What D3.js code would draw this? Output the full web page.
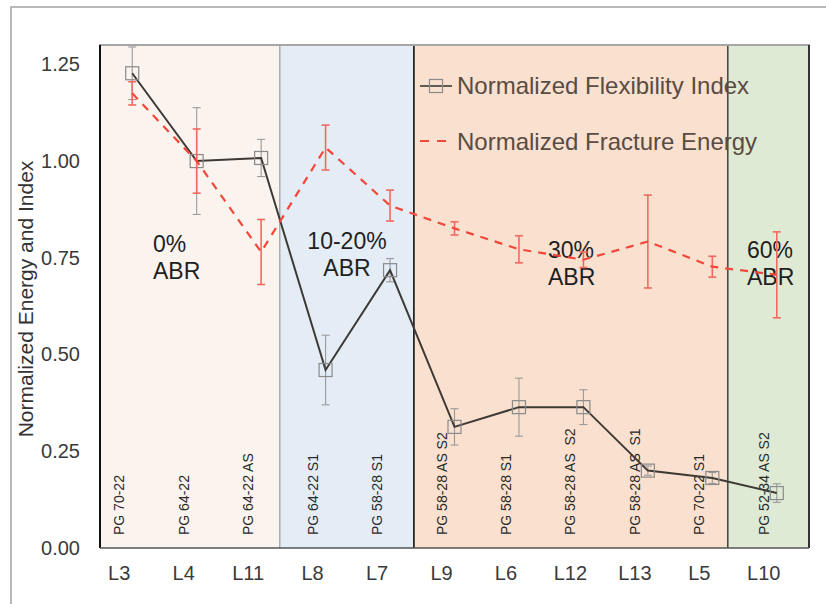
<!DOCTYPE html>
<html>
<head>
<meta charset="utf-8">
<script src="https://cdn.jsdelivr.net/npm/d3@7"></script>
<style>
  html, body { margin: 0; padding: 0; background: #fff; }
  svg { display: block; font-family: "Liberation Sans", Arial, sans-serif; }
</style>
</head>
<body>
<svg id="chart" width="826" height="604"></svg>
<script>
// ---------------- DATA ----------------
const categories = ["L3","L4","L11","L8","L7","L9","L6","L12","L13","L5","L10"];
const mixLabels = ["PG 70-22","PG 64-22","PG 64-22 AS","PG 64-22 S1","PG 58-28 S1",
                   "PG 58-28 AS S2","PG 58-28 S1","PG 58-28 AS  S2","PG 58-28 AS  S1",
                   "PG 70-22 S1","PG 52-34 AS S2"];
const flexIndex    = [1.227, 1.000, 1.008, 0.460, 0.718, 0.313, 0.364, 0.364, 0.200, 0.181, 0.142];
const flexIndexErr = [0.068, 0.138, 0.048, 0.090, 0.030, 0.047, 0.075, 0.045, 0.012, 0.014, 0.024];
const fractureEnergy    = [1.175, 1.000, 0.765, 1.035, 0.885, 0.826, 0.772, 0.745, 0.792, 0.727, 0.706];
const fractureEnergyErr = [0.030, 0.083, 0.084, 0.058, 0.040, 0.017, 0.035, 0.020, 0.120, 0.027, 0.111];
const yTicks = [0, 0.25, 0.50, 0.75, 1.00, 1.25];
const groupLabels = [["0%","ABR"],["10-20%","ABR"],["30%","ABR"],["60%","ABR"]];
const seriesNames = ["Normalized Flexibility Index","Normalized Fracture Energy"];
const yTitle = "Normalized Energy and Index";

// ---------------- LAYOUT ----------------
const M = {left: 100, right: 809, top: 45, bottom: 548};
const regionBounds = [0, 2.79, 4.87, 9.74, 11];           // in category-index units
const regionFills  = ["#fbf3ee", "#e4ecf6", "#f9e0cf", "#dfead5"];
const regionLines  = [null, "#8a8a8a", "#111111", "#4a4a4a"];
const groupLayout = [
  {x: 153, y: 252, anchor: "start"},
  {x: 347, y: 249, anchor: "middle"},
  {x: 548, y: 258, anchor: "start"},
  {x: 747, y: 258, anchor: "start"}
];
const labelShift = -13;

const svg = d3.select("#chart");
svg.append("rect").attr("width", 826).attr("height", 604).attr("fill", "#fff");

// outer frame
svg.append("path").attr("d", "M11,604V7H826").attr("fill", "none")
   .attr("stroke", "#a3a3a3").attr("stroke-width", 1.5);

const x = d3.scaleBand().domain(categories).range([M.left, M.right]).padding(0);
const xc = c => x(c) + x.bandwidth() / 2;
const xi = d3.scaleLinear().domain([0, categories.length]).range([M.left, M.right]);
const y = d3.scaleLinear().domain([0, 1.3]).range([M.bottom, M.top]);

// regions
const regions = groupLabels.map((g, i) => ({i, x0: xi(regionBounds[i]), x1: xi(regionBounds[i + 1])}));
svg.selectAll("rect.region").data(regions).join("rect").attr("class", "region")
  .attr("x", d => d.x0).attr("y", M.top).attr("width", d => d.x1 - d.x0)
  .attr("height", M.bottom - M.top).attr("fill", d => regionFills[d.i]);
svg.selectAll("line.divider").data(regions.filter(d => regionLines[d.i])).join("line")
  .attr("class", "divider")
  .attr("x1", d => d.x0).attr("x2", d => d.x0).attr("y1", M.top).attr("y2", M.bottom)
  .attr("stroke", d => regionLines[d.i]).attr("stroke-width", d => d.i === 1 ? 1 : 1.6);

// plot borders
svg.append("line").attr("x1", M.left - 1).attr("x2", M.right + 1).attr("y1", M.top).attr("y2", M.top)
  .attr("stroke", "#a6a6a6").attr("stroke-width", 2.2);
svg.append("line").attr("x1", M.left).attr("x2", M.left).attr("y1", M.top).attr("y2", M.bottom)
  .attr("stroke", "#111").attr("stroke-width", 2);
svg.append("line").attr("x1", M.right).attr("x2", M.right).attr("y1", M.top).attr("y2", M.bottom)
  .attr("stroke", "#333").attr("stroke-width", 2);
svg.append("line").attr("x1", M.left).attr("x2", M.right).attr("y1", M.bottom).attr("y2", M.bottom)
  .attr("stroke", "#555").attr("stroke-width", 1.6);

// axes
const yAxis = svg.append("g").attr("transform", `translate(${M.left},0)`)
  .call(d3.axisLeft(y).tickValues(yTicks).tickFormat(d3.format(".2f")).tickSize(0).tickPadding(20));
yAxis.select(".domain").remove();
yAxis.selectAll("text").attr("font-size", 20).attr("fill", "#3a3a3a")
  .attr("font-family", "Liberation Sans, Arial, sans-serif");

const xAxis = svg.append("g").attr("transform", `translate(0,${M.bottom})`)
  .call(d3.axisBottom(x).tickSize(0).tickPadding(18));
xAxis.select(".domain").remove();
xAxis.selectAll("text").attr("font-size", 20).attr("fill", "#3a3a3a").attr("dx", labelShift)
  .attr("font-family", "Liberation Sans, Arial, sans-serif");

// y title
svg.append("text").attr("transform", "translate(33,299) rotate(-90)")
  .attr("text-anchor", "middle").attr("font-size", 21).attr("fill", "#333").text(yTitle);

// mix labels (rotated)
svg.selectAll("text.mix").data(categories).join("text").attr("class", "mix")
  .attr("transform", (c) => `translate(${xc(c) + labelShift + 5},535) rotate(-90)`)
  .attr("font-size", 14).attr("fill", "#2a2a2a").style("white-space", "pre")
  .text((c, i) => mixLabels[i]);

// group annotations
groupLabels.forEach((lines, i) => {
  const L = groupLayout[i];
  const t = svg.append("text").attr("font-size", 23).attr("fill", "#1f1f1f")
    .attr("text-anchor", L.anchor);
  lines.forEach((ln, k) => t.append("tspan").attr("x", L.x).attr("y", L.y + k * 27).text(ln));
});

// ---------- series ----------
const fiPts = categories.map((c, i) => ({c, v: flexIndex[i], e: flexIndexErr[i]}));
const fePts = categories.map((c, i) => ({c, v: fractureEnergy[i], e: fractureEnergyErr[i]}));
const line = d3.line().x(d => xc(d.c)).y(d => y(d.v));

function errorBars(pts, color, width, cls) {
  const g = svg.append("g").attr("class", cls).attr("stroke", color).attr("stroke-width", width);
  g.selectAll("line.v").data(pts).join("line").attr("class", "v")
    .attr("x1", d => xc(d.c)).attr("x2", d => xc(d.c))
    .attr("y1", d => y(d.v + d.e)).attr("y2", d => y(d.v - d.e));
  g.selectAll("line.t").data(pts).join("line").attr("class", "t")
    .attr("x1", d => xc(d.c) - 4).attr("x2", d => xc(d.c) + 4)
    .attr("y1", d => y(d.v + d.e)).attr("y2", d => y(d.v + d.e));
  g.selectAll("line.b").data(pts).join("line").attr("class", "b")
    .attr("x1", d => xc(d.c) - 4).attr("x2", d => xc(d.c) + 4)
    .attr("y1", d => y(d.v - d.e)).attr("y2", d => y(d.v - d.e));
}

errorBars(fiPts, "#9a9a9a", 1.1, "fi-err");
svg.append("path").datum(fiPts).attr("d", line).attr("fill", "none")
  .attr("stroke", "#3d3935").attr("stroke-width", 2);
svg.selectAll("rect.fi").data(fiPts).join("rect").attr("class", "fi")
  .attr("x", d => xc(d.c) - 6.5).attr("y", d => y(d.v) - 6.5).attr("width", 13).attr("height", 13)
  .attr("fill", "none").attr("stroke", "#8a8a8a").attr("stroke-width", 1.2);

errorBars(fePts, "#f06a60", 1.6, "fe-err");
svg.append("path").datum(fePts).attr("d", line).attr("fill", "none")
  .attr("stroke", "#f2483a").attr("stroke-width", 2.2).attr("stroke-dasharray", "8,7");

// ---------- Legend ----------
const lg = svg.append("g");
lg.append("line").attr("x1", 420).attr("x2", 452).attr("y1", 86).attr("y2", 86)
  .attr("stroke", "#3d3935").attr("stroke-width", 1.6);
lg.append("rect").attr("x", 429.5).attr("y", 79.5).attr("width", 13).attr("height", 13)
  .attr("fill", "none").attr("stroke", "#8a8a8a").attr("stroke-width", 1.2);
lg.append("text").attr("x", 457).attr("y", 94).attr("font-size", 24).attr("fill", "#5a4b43").text(seriesNames[0]);
lg.append("line").attr("x1", 420).attr("x2", 452).attr("y1", 141).attr("y2", 141)
  .attr("stroke", "#f2483a").attr("stroke-width", 2.2).attr("stroke-dasharray", "9,8");
lg.append("text").attr("x", 457).attr("y", 150).attr("font-size", 24).attr("fill", "#5a4b43").text(seriesNames[1]);
</script>
</body>
</html>
